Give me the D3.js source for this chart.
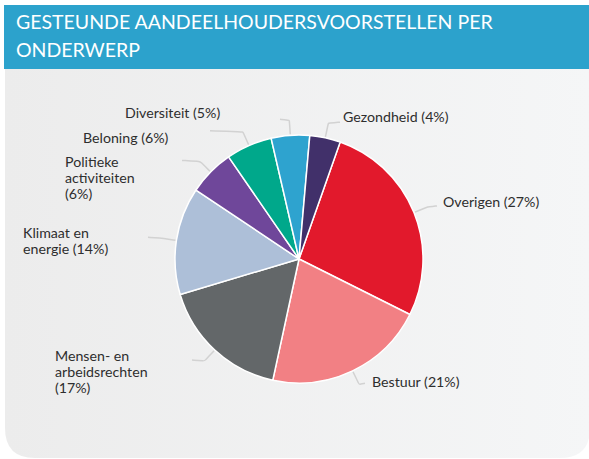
<!DOCTYPE html>
<html>
<head>
<meta charset="utf-8">
<script src="https://cdn.jsdelivr.net/npm/d3@7"></script>
<style>
  html, body { margin: 0; padding: 0; background: #fff; }
  svg { display: block; }
</style>
</head>
<body>
<div id="chart"></div>
<script>
// data, clockwise from the top-right slice
const categories = ['Overigen', 'Bestuur', 'Mensen- en arbeidsrechten', 'Klimaat en energie',
  'Politieke activiteiten', 'Beloning', 'Diversiteit', 'Gezondheid'];
const shares = [27, 21, 17, 14, 6, 6, 5, 4];
// label lines as they wrap in the picture
const labelLines = [
  ['Overigen (27%)'],
  ['Bestuur (21%)'],
  ['Mensen- en', 'arbeidsrechten', '(17%)'],
  ['Klimaat en', 'energie (14%)'],
  ['Politieke', 'activiteiten', '(6%)'],
  ['Beloning (6%)'],
  ['Diversiteit (5%)'],
  ['Gezondheid (4%)']
];
const colors = ['#e2192c', '#f28084', '#636769', '#adbfd8', '#6f479a', '#00a88b', '#2ea3cf', '#41306a'];

// label placement (annotation layout): text x, first baseline, leader end x
const labelLayout = [
  { x: 443, y: 207, endX: 437 },
  { x: 372, y: 387, endX: 365 },
  { x: 55, y: 361, endX: 192 },
  { x: 23, y: 238, endX: 148 },
  { x: 65, y: 167, endX: 182 },
  { x: 83, y: 143, endX: 210 },
  { x: 125, y: 118, endX: 280 },
  { x: 343, y: 122, endX: 340 }
];

const width = 589, height = 459;
const cx = 299, cy = 259, radius = 124;
const startOffset = 19.4 * Math.PI / 180;

const svg = d3.select('#chart').append('svg')
  .attr('width', width)
  .attr('height', height);

const defs = svg.append('defs');
const grad = defs.append('linearGradient').attr('id', 'panelGrad')
  .attr('x1', 0).attr('x2', 1).attr('y1', 0).attr('y2', 0);
grad.append('stop').attr('offset', '0%').attr('stop-color', '#ececec');
grad.append('stop').attr('offset', '100%').attr('stop-color', '#f5f6f7');

// grey panel with rounded bottom corners
const px0 = 5, px1 = 590, py0 = 69, py1 = 458, pr = 30;
svg.append('path')
  .attr('d', `M${px0},${py0} H${px1} V${py1 - pr} Q${px1},${py1} ${px1 - pr},${py1} H${px0 + pr} Q${px0},${py1} ${px0},${py1 - pr} Z`)
  .attr('fill', 'url(#panelGrad)');

// title band
svg.append('rect')
  .attr('x', 4).attr('y', 5)
  .attr('width', width - 4).attr('height', 64)
  .attr('fill', '#2ca2cc');

const title = svg.append('text')
  .attr('fill', '#fff')
  .attr('font-family', 'Lato, "Open Sans", sans-serif')
  .attr('font-size', 19.5);
title.append('tspan').attr('x', 16).attr('y', 29).text('GESTEUNDE AANDEELHOUDERSVOORSTELLEN PER');
title.append('tspan').attr('x', 16).attr('y', 57).text('ONDERWERP');

// pie
const pie = d3.pie()
  .sort(null)
  .value((d) => d)
  .startAngle(startOffset)
  .endAngle(startOffset + 2 * Math.PI);

const arcs = pie(shares);
const arc = d3.arc().innerRadius(0).outerRadius(radius);

const g = svg.append('g').attr('transform', `translate(${cx},${cy})`);

g.selectAll('path.slice')
  .data(arcs)
  .join('path')
  .attr('class', 'slice')
  .attr('d', arc)
  .attr('fill', (d, i) => colors[i])
  .attr('stroke', '#fff')
  .attr('stroke-width', 1.5)
  .attr('stroke-linejoin', 'round');

// leader lines
const leader = d3.line().curve(d3.curveBasis);
const polar = (a, r) => [cx + r * Math.sin(a), cy - r * Math.cos(a)];

svg.selectAll('path.leader')
  .data(arcs)
  .join('path')
  .attr('class', 'leader')
  .attr('d', (d, i) => {
    const mid = (d.startAngle + d.endAngle) / 2;
    const p0 = polar(mid, radius + 1);
    const p1 = polar(mid, radius + 15);
    const p2 = [labelLayout[i].endX, p1[1] - 1];
    return leader([p0, p1, p1, p2]);
  })
  .attr('fill', 'none')
  .attr('stroke', '#d2d2d2')
  .attr('stroke-width', 1.5);

// labels
const labels = svg.selectAll('text.label')
  .data(labelLines)
  .join('text')
  .attr('class', 'label')
  .attr('font-family', 'Lato, "Open Sans", sans-serif')
  .attr('font-size', 14.2)
  .attr('fill', '#2e2e2e');

labels.selectAll('tspan')
  .data((d, i) => d.map((t) => ({ t, i })))
  .join('tspan')
  .attr('x', (d) => labelLayout[d.i].x)
  .attr('y', (d, j) => labelLayout[d.i].y + j * 16)
  .text((d) => d.t);
</script>
</body>
</html>
